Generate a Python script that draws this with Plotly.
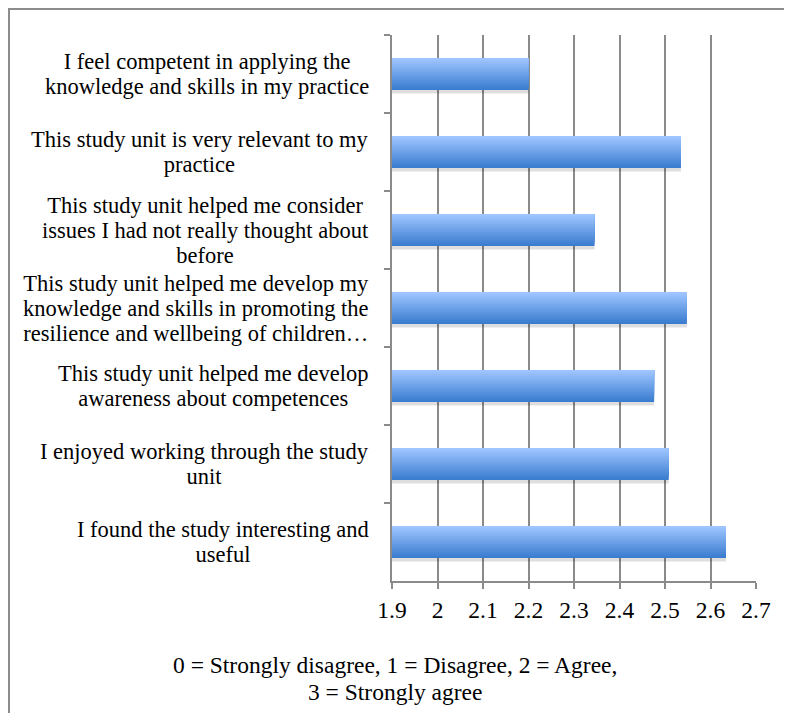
import plotly.graph_objects as go

# ---- data (top to bottom as shown) ----
categories = [
    "I feel competent in applying the<br>knowledge and skills in my practice",
    "This study unit is very relevant to my<br>practice",
    "This study unit helped me consider<br>issues I had not really thought about<br>before",
    "This study unit helped me develop my<br>knowledge and skills in promoting the<br>resilience and wellbeing of children…",
    "This study unit helped me develop<br>awareness about competences",
    "I enjoyed working through the study<br>unit",
    "I found the study interesting and<br>useful",
]
values = [2.20, 2.535, 2.345, 2.548, 2.476, 2.508, 2.634]
x_tickvals = [1.9, 2.0, 2.1, 2.2, 2.3, 2.4, 2.5, 2.6, 2.7]
x_ticktext = ["1.9", "2", "2.1", "2.2", "2.3", "2.4", "2.5", "2.6", "2.7"]
footer = "0 = Strongly disagree, 1 = Disagree, 2 = Agree,<br>3 = Strongly agree"

FONT = "Liberation Serif, Times New Roman, serif"
OFF = 8  # page body margin
W, H = 792 - OFF, 713 - OFF
ML, MT = 392 - OFF, 35 - OFF
PW, PH = 364, 546
MR, MB = W - ML - PW, H - MT - PH


def big(text, size):
    return "<br>".join('<span style="font-size:%spx">%s</span>' % (size, ln)
                       for ln in text.split("<br>"))


fig = go.Figure()

bar_w = 0.41
# shadow
fig.add_trace(go.Bar(
    x=values, y=categories, orientation="h",
    width=bar_w, offset=-bar_w / 2 + 0.045,
    marker=dict(color="rgba(0,0,0,0.13)", line=dict(width=0)),
    hoverinfo="skip", showlegend=False,
))

# gradient strips (reversed axis: positive offset = visually lower)
N = 16
dark = (59, 125, 208)
light = (158, 197, 255)
h = bar_w / N
for i in range(N):
    t = i / (N - 1)
    c = tuple(round(dark[k] + (light[k] - dark[k]) * t) for k in range(3))
    fig.add_trace(go.Bar(
        x=values, y=categories, orientation="h",
        width=bar_w - i * h, offset=-bar_w / 2,
        marker=dict(color="rgb(%d,%d,%d)" % c, line=dict(width=0)),
        hoverinfo="skip", showlegend=False,
    ))

# category labels as centered annotations
for cat in categories:
    fig.add_annotation(
        x=(371 - OFF - ML) / PW, xref="paper", y=cat, yref="y",
        text=big(cat, 22.5), showarrow=False, xanchor="right", yanchor="middle",
        align="center", font=dict(family=FONT, size=19.3, color="black"),
    )

# footer
fig.add_annotation(
    x=(395 - OFF - ML) / PW, xref="paper", y=-(678 - 581) / PH, yref="paper",
    text=big(footer, 23.5), showarrow=False, xanchor="center", yanchor="middle",
    align="center", font=dict(family=FONT, size=20.8, color="black"),
)

# outer border
fig.add_shape(
    type="rect", xref="paper", yref="paper",
    x0=(1 - ML) / PW, x1=3, y0=-3, y1=(MT + PH - 1) / PH,
    line=dict(color="#8c8c8c", width=2), fillcolor="rgba(0,0,0,0)", layer="below",
)

fig.update_layout(
    width=W, height=H,
    margin=dict(l=ML, r=MR, t=MT, b=MB, pad=0),
    barmode="overlay",
    plot_bgcolor="white", paper_bgcolor="white",
    showlegend=False,
    font=dict(family=FONT, color="black"),
    xaxis=dict(
        range=[1.9, 2.7], tickvals=x_tickvals, ticktext=x_ticktext,
        showgrid=True, gridcolor="#8a8a8a", gridwidth=2,
        zeroline=False, showline=True, linecolor="#8a8a8a", linewidth=2,
        ticks="outside", ticklen=6, tickwidth=2, tickcolor="#8a8a8a",
        tickfont=dict(family=FONT, size=23.5, color="black"),
        ticklabelstandoff=1,
    ),
    yaxis=dict(
        categoryorder="array", categoryarray=categories,
        autorange="reversed", type="category",
        showticklabels=False, showgrid=False, zeroline=False,
        showline=True, linecolor="#8a8a8a", linewidth=2,
        ticks="outside", ticklen=6, tickwidth=2, tickcolor="#8a8a8a",
        tickson="boundaries",
    ),
)

fig.write_html("out.html")
